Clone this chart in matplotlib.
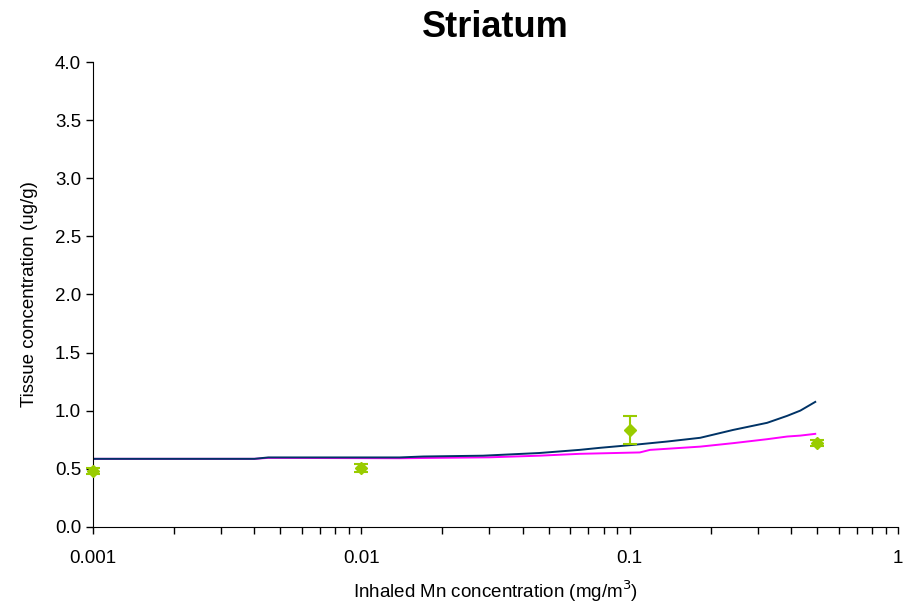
import numpy as np
import matplotlib
matplotlib.use("Agg")
import matplotlib.pyplot as plt
from matplotlib.ticker import LogLocator, NullFormatter, FixedLocator

plt.rcParams['font.family'] = ['Liberation Sans', 'DejaVu Sans']

# model curve, upper (navy)
conc_a = [0.001, 0.004, 0.0045, 0.0139, 0.017, 0.0284, 0.046, 0.065, 0.0777,
          0.103, 0.138, 0.183, 0.243, 0.325, 0.386, 0.432, 0.491]
tissue_a = [0.585, 0.585, 0.597, 0.597, 0.605, 0.612, 0.635, 0.662, 0.68,
            0.705, 0.734, 0.766, 0.834, 0.895, 0.955, 1.0, 1.075]

# model curve, lower (magenta)
conc_b = [0.001, 0.004, 0.0045, 0.0139, 0.03, 0.046, 0.065, 0.109, 0.119,
          0.183, 0.243, 0.325, 0.386, 0.432, 0.491]
tissue_b = [0.585, 0.585, 0.593, 0.59, 0.598, 0.612, 0.628, 0.64, 0.662,
            0.69, 0.72, 0.754, 0.777, 0.785, 0.80]

# measured data
obs_conc = [0.001, 0.01, 0.1, 0.5]
obs_mean = [0.48, 0.505, 0.835, 0.72]
obs_err = [0.025, 0.035, 0.12, 0.025]

fig = plt.figure(figsize=(9.1, 6.09), dpi=100)
ax = fig.add_axes([0.102, 0.135, 0.885, 0.763])

ax.plot(conc_b, tissue_b, color='#FF00FF', lw=1.4)
ax.plot(conc_a, tissue_a, color='#003366', lw=1.4)
ax.errorbar(obs_conc, obs_mean, yerr=obs_err, fmt='D', color='#99CC00',
            ms=6, elinewidth=1.5, capsize=5, capthick=1.5, clip_on=False, zorder=5)

ax.set_xscale('log')
ax.set_xlim(0.001, 1)
ax.set_ylim(0, 4.0)
ax.set_yticks(np.arange(0, 4.01, 0.5))
ax.set_yticklabels(['%.1f' % v for v in np.arange(0, 4.01, 0.5)])
ax.xaxis.set_major_locator(FixedLocator([0.001, 0.01, 0.1, 1]))
ax.set_xticklabels(['0.001', '0.01', '0.1', '1'])
ax.xaxis.set_minor_locator(LogLocator(base=10, subs=np.arange(2, 10)))
ax.xaxis.set_minor_formatter(NullFormatter())

for s in ['top', 'right']:
    ax.spines[s].set_visible(False)
ax.tick_params(axis='both', which='both', direction='out', length=5, width=1,
               labelsize=13.5)
ax.tick_params(axis='x', which='major', pad=12)

ax.set_title('Striatum', fontsize=26, fontweight='bold', pad=18)
ax.set_xlabel('Inhaled Mn concentration (mg/m$^3$)', fontsize=13.5, labelpad=8)
ax.set_ylabel('Tissue concentration (ug/g)', fontsize=13.5, labelpad=12)

fig.savefig('out.png', dpi=100)
